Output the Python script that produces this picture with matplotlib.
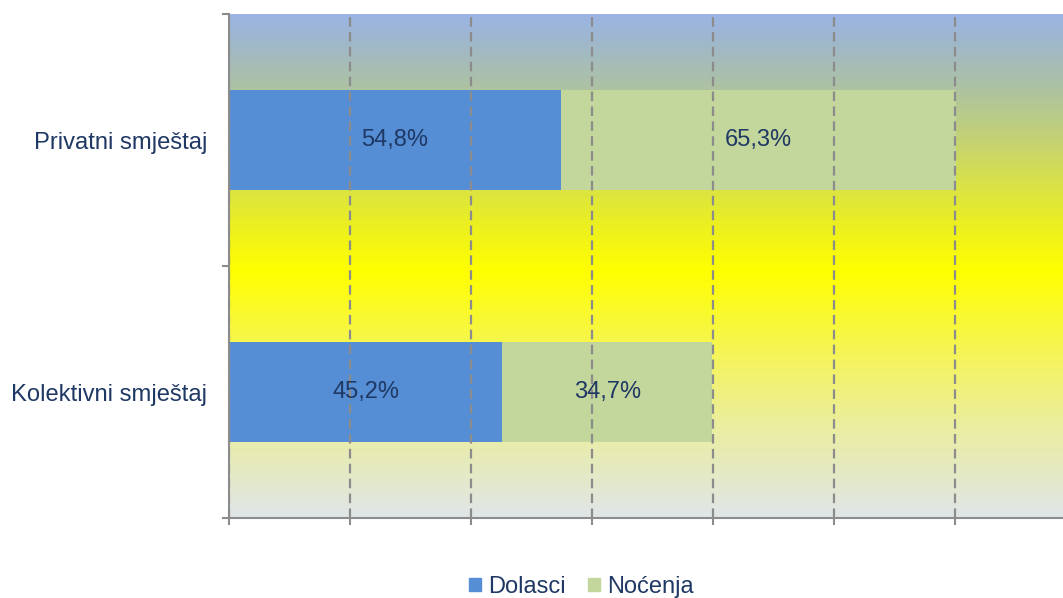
import numpy as np
import matplotlib
matplotlib.use("Agg")
import matplotlib.pyplot as plt
from matplotlib.colors import LinearSegmentedColormap
from matplotlib.patches import Patch

plt.rcParams['font.family'] = ['Liberation Sans', 'DejaVu Sans']

# Data (share in %)
categories = ["Kolektivni smještaj", "Privatni smještaj"]
dolasci = [45.2, 54.8]
nocenja = [34.7, 65.3]
series_names = ["Dolasci", "Noćenja"]
xticks = [0, 20, 40, 60, 80, 100, 120]

blue = "#558ed5"
green = "#c3d69b"
text_col = "#1f3864"
axis_col = "#8c8c8c"

fig = plt.figure(figsize=(10.63, 5.98), dpi=100)
ax = fig.add_axes([229/1063, 1 - 518/598, 1 - 229/1063, 504/598])

xmax = 137.85
# background gradient (top -> bottom)
grad = LinearSegmentedColormap.from_list("bg", [
    (0.00, "#9bb4e4"),
    (0.06, "#a0b8c8"),
    (0.16, "#b0c49c"),
    (0.26, "#c7d46e"),
    (0.36, "#dee63c"),
    (0.42, "#ecf020"),
    (0.51, "#ffff00"),
    (0.62, "#f8f83c"),
    (0.72, "#f2f270"),
    (0.82, "#ebeea0"),
    (0.92, "#e4e9c8"),
    (1.00, "#e0e6e8"),
])
ax.imshow(np.linspace(0, 1, 256).reshape(-1, 1), cmap=grad, aspect="auto",
          extent=[0, xmax, -0.5, 1.5], zorder=0)

y = np.arange(len(categories))
ax.barh(y, dolasci, height=0.4, color=blue, zorder=2)
ax.barh(y, nocenja, left=dolasci, height=0.4, color=green, zorder=2)

for i in range(len(categories)):
    ax.text(dolasci[i] / 2, y[i], f"{dolasci[i]:.1f}%".replace(".", ","),
            ha="center", va="center", fontsize=17, color=text_col, zorder=3)
    ax.text(dolasci[i] + nocenja[i] / 2, y[i], f"{nocenja[i]:.1f}%".replace(".", ","),
            ha="center", va="center", fontsize=17, color=text_col, zorder=3)

ax.set_xlim(0, xmax)
ax.set_ylim(-0.5, 1.5)

for s in ["top", "right"]:
    ax.spines[s].set_visible(False)
for s in ["left", "bottom"]:
    ax.spines[s].set_color(axis_col)
    ax.spines[s].set_linewidth(1.5)
    ax.spines[s].set_zorder(4)

ax.set_xticks(xticks)
ax.set_xticklabels([])
ax.tick_params(axis="x", length=5, width=1.5, color=axis_col)
ax.set_yticks([-0.5, 0.5, 1.5])
ax.set_yticklabels([])
ax.set_yticks(y, minor=True)
ax.set_yticklabels(categories, minor=True)
ax.tick_params(axis="y", which="major", length=5, width=1.5, color=axis_col)
ax.tick_params(axis="y", which="minor", length=0, pad=15.5, labelsize=17.1, labelcolor=text_col)

ax.grid(axis="x", color=axis_col, linewidth=1.6, linestyle=(0, (4.3, 2.4)), zorder=1)
ax.set_axisbelow(False)
for line in ax.get_xgridlines():
    line.set_zorder(1)

handles = [Patch(color=blue), Patch(color=green)]
fig.legend(handles, series_names, loc="lower center", bbox_to_anchor=(0.547, -0.035),
           ncol=2, frameon=False, fontsize=17, handlelength=0.5, handleheight=0.5,
           handletextpad=0.3, columnspacing=0.95, labelcolor=text_col)

fig.savefig("out.png", dpi=100)
